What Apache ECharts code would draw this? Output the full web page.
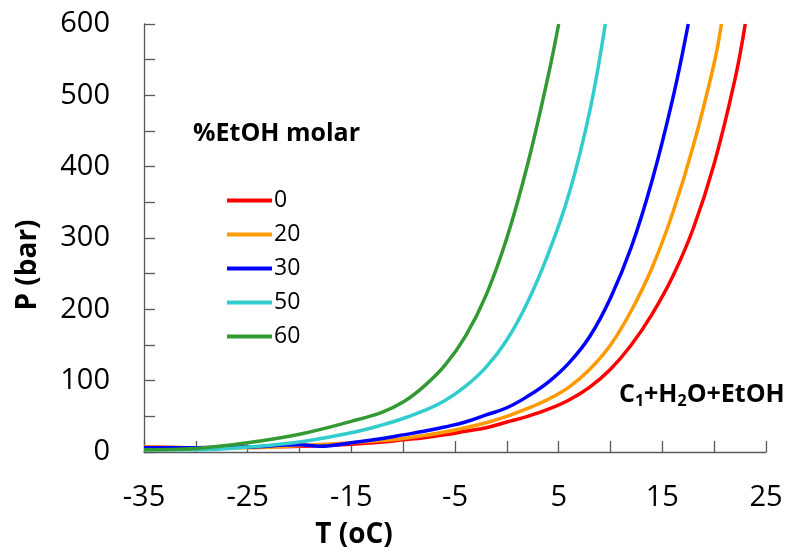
<!DOCTYPE html>
<html>
<head>
<meta charset="utf-8">
<script src="https://cdn.jsdelivr.net/npm/echarts@6/dist/echarts.min.js"></script>
<style>
  html, body { margin: 0; padding: 0; background: #fff; }
  #chart { width: 791px; height: 554px; }
</style>
</head>
<body>
<div id="chart"></div>
<script>
// series names (% EtOH molar)
const seriesNames = ['0', '20', '30', '50', '60'];
const seriesColors = ['#ff0000', '#ff9900', '#0000ff', '#33cccc', '#339933'];

// temperatures (oC) and pressures (bar)
const t0 = [-35, -30, -25, -20, -15, -12, -10, -8, -6, -4, -2, 0, 2, 4, 6, 8, 10, 12, 14, 16, 18, 20, 22, 23];
const p0 = [7, 6, 7, 8, 11, 14, 17, 20, 24, 29, 34, 42, 50, 60, 73, 91, 116, 150, 193, 246, 314, 404, 522, 600];

const t20 = [-35, -30, -25, -20, -15, -12, -10, -8, -6, -4, -2, 0, 2, 4, 6, 8, 10, 12, 14, 16, 18, 20, 20.7];
const p20 = [7, 6, 6, 9, 13, 16, 19, 23, 28, 34, 41, 50, 61, 74, 91, 116, 150, 198, 258, 335, 430, 545, 600];

const t30 = [-35, -30, -25, -20, -18, -15, -12, -10, -8, -6, -4, -2, 0, 2, 4, 6, 8, 10, 12, 14, 16, 17.5];
const p30 = [6, 6, 7, 10, 8, 13, 19, 24, 29, 35, 42, 52, 62, 78, 98, 125, 162, 216, 287, 380, 495, 600];

const t50 = [-35, -30, -25, -20, -15, -12, -10, -8, -6, -4, -2, 0, 2, 4, 6, 8, 9.5];
const p50 = [3, 3, 7, 14, 27, 38, 47, 58, 72, 92, 119, 157, 210, 278, 362, 478, 600];

const t60 = [-35, -30, -25, -20, -15, -12, -10, -8, -6, -4, -2, 0, 2, 4, 5];
const p60 = [3, 5, 13, 25, 43, 56, 70, 92, 121, 162, 220, 300, 403, 528, 600];

const temps = [t0, t20, t30, t50, t60];
const pressures = [p0, p20, p30, p50, p60];

const FONT = '"Open Sans", "Noto Sans", sans-serif';

const chart = echarts.init(document.getElementById('chart'));

chart.setOption({
  animation: false,
  title: {
    text: '%EtOH molar',
    left: 193,
    top: 121,
    padding: 0,
    textStyle: { fontFamily: FONT, fontSize: 25, fontWeight: 'bold', color: '#000' }
  },
  legend: {
    orient: 'vertical',
    left: 227,
    top: 189,
    padding: 0,
    itemWidth: 45,
    itemHeight: 4,
    itemGap: 11,
    icon: 'rect',
    data: seriesNames,
    textStyle: { fontFamily: FONT, fontSize: 23, color: '#000', padding: [0, 0, 0, -3] }
  },
  grid: { left: 144, right: 25, top: 24, bottom: 102, containLabel: false },
  xAxis: {
    type: 'value',
    min: -35,
    max: 25,
    interval: 5,
    axisLine: { onZero: false, lineStyle: { color: '#595959', width: 1.3 } },
    axisTick: { inside: true, length: 11, lineStyle: { color: '#595959', width: 1.3 } },
    splitLine: { show: false },
    axisLabel: {
      margin: 31,
      fontFamily: FONT,
      fontSize: 29,
      color: '#000',
      formatter: v => ((v + 35) % 10 === 0 ? String(v) : '')
    }
  },
  yAxis: {
    type: 'value',
    min: 0,
    max: 600,
    interval: 50,
    axisLine: { show: true, onZero: false, lineStyle: { color: '#595959', width: 1.3 } },
    axisTick: { show: true, inside: true, length: 11, lineStyle: { color: '#595959', width: 1.3 } },
    splitLine: { show: false },
    axisLabel: {
      margin: 34,
      fontFamily: FONT,
      fontSize: 29,
      color: '#000',
      formatter: v => (v % 100 === 0 ? String(v) : '')
    }
  },
  graphic: [
    {
      type: 'text',
      x: 354, y: 535,
      style: { text: 'T (oC)', fontFamily: FONT, fontSize: 28, fontWeight: 'bold', fill: '#000', align: 'center', verticalAlign: 'middle' }
    },
    {
      type: 'text',
      x: 28, y: 265,
      rotation: Math.PI / 2,
      style: { text: 'P (bar)', fontFamily: FONT, fontSize: 28, fontWeight: 'bold', fill: '#000', align: 'center', verticalAlign: 'middle' }
    },
    {
      type: 'text',
      x: 619, y: 380,
      style: {
        text: '{b|C}{s|1}{b|+H}{s|2}{b|O+EtOH}',
        fill: '#000',
        rich: {
          b: { fontFamily: FONT, fontSize: 25, fontWeight: 'bold', lineHeight: 29, verticalAlign: 'middle' },
          s: { fontFamily: FONT, fontSize: 16, fontWeight: 'bold', lineHeight: 16, verticalAlign: 'bottom' }
        }
      }
    }
  ],
  series: seriesNames.map((name, i) => ({
    name,
    type: 'line',
    smooth: 0.4,
    showSymbol: false,
    clip: true,
    color: seriesColors[i],
    lineStyle: { width: 3.5, color: seriesColors[i] },
    data: temps[i].map((t, j) => [t, pressures[i][j]])
  }))
});

window.addEventListener('resize', () => chart.resize());
</script>
</body>
</html>
